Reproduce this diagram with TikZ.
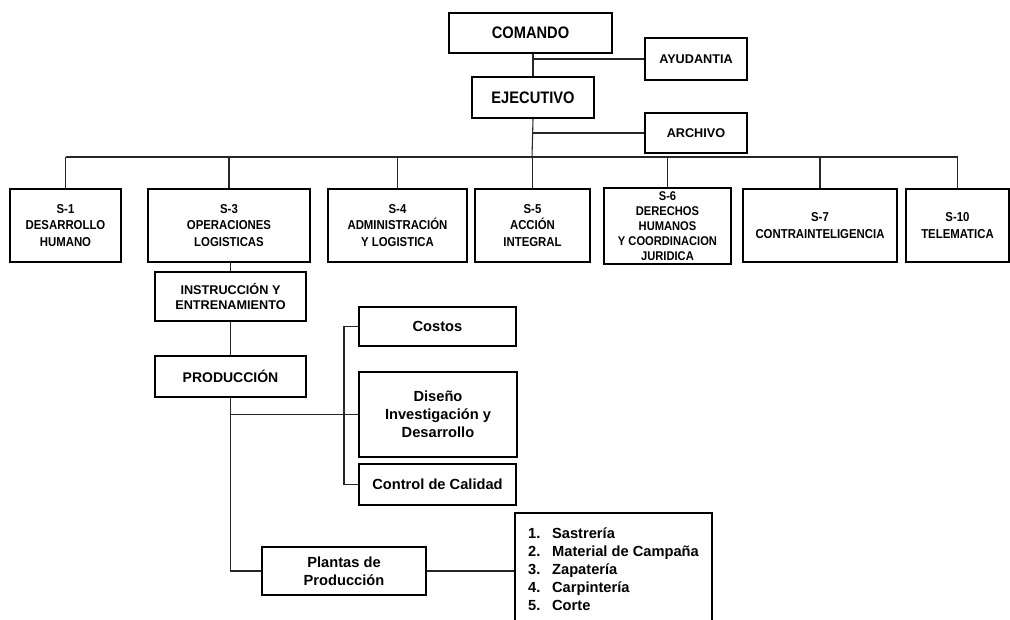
\documentclass[tikz,border=0pt]{standalone}
\usepackage{fontspec}
\setmainfont{Liberation Sans}
\newfontfamily\narrowsf[FakeStretch=0.88]{Liberation Sans}
\usetikzlibrary{positioning}

\begin{document}
\begin{tikzpicture}[
    x = 0.75pt, y = -0.75pt,
    box/.style = {draw, line width = 1.5pt, align = center, inner sep = 1pt},
    size/.style 2 args = {minimum width = #1*0.75pt, minimum height = #2*0.75pt},
    head/.style = {box, font = \narrowsf\bfseries\fontsize{12.5}{15}\selectfont},
    aide/.style = {box, font = \bfseries\fontsize{9.5}{11}\selectfont},
    staff/.style = {box, size = {#1}{73}, font = \narrowsf\bfseries\fontsize{9.7}{12.4}\selectfont},
    unit/.style = {box, font = \bfseries\fontsize{11}{13.5}\selectfont},
    link/.style = {line width = 0.8pt, black!85}
  ]
  \useasboundingbox (0,0) rectangle (1010,620);

  % mando
  \node[head, size = {163}{40}] (comando) at (530.5,33) {COMANDO};
  \node[aide, size = {102}{42}] (ayudantia) at (696,59) {AYUDANTIA};
  \node[head, size = {122}{41}] (ejecutivo) at (533,97.5) {EJECUTIVO};
  \node[aide, size = {102}{40}] (archivo) at (696,133) {ARCHIVO};

  % estado mayor
  \node[staff = 111] (s1) at (65.5,225.5) {S-1\\DESARROLLO\\HUMANO};
  \node[staff = 162] (s3) at (229,225.5) {S-3\\OPERACIONES\\LOGISTICAS};
  \node[staff = 139] (s4) at (397.5,225.5) {S-4\\ADMINISTRACIÓN\\Y LOGISTICA};
  \node[staff = 115] (s5) at (532.5,225.5) {S-5\\ACCIÓN\\INTEGRAL};
  \node[staff = 127, size = {127}{76}, font = \narrowsf\bfseries\fontsize{9.5}{11.2}\selectfont]
    (s6) at (667.5,226) {S-6\\DERECHOS\\HUMANOS\\Y COORDINACION\\JURIDICA};
  \node[staff = 154] (s7) at (820,225.5) {S-7\\CONTRAINTELIGENCIA};
  \node[staff = 103] (s10) at (957.5,225.5) {S-10\\TELEMATICA};

  % produccion
  \node[aide, size = {151}{49}, font = \bfseries\fontsize{9.5}{11.8}\selectfont]
    (instruccion) at (230.5,296.5) {INSTRUCCIÓN Y\\ENTRENAMIENTO};
  \node[aide, size = {151}{41}, font = \bfseries\fontsize{10.5}{13}\selectfont]
    (produccion) at (230.5,376.5) {PRODUCCIÓN};
  \node[unit, size = {157}{39}] (costos) at (437.5,326.5) {Costos};
  \node[unit, size = {158}{85}] (diseno) at (438,414.5) {Diseño\\Investigación y\\Desarrollo};
  \node[unit, size = {157}{41}] (control) at (437.5,484.5) {Control de Calidad};
  \node[unit, size = {164}{48}] (plantas) at (344,571) {Plantas de\\Producción};
  \node[unit, size = {197}{112}, align = left] (lista) at (613.5,569)
    {\makebox[18pt][l]{1.}Sastrería\\
     \makebox[18pt][l]{2.}Material de Campaña\\
     \makebox[18pt][l]{3.}Zapatería\\
     \makebox[18pt][l]{4.}Carpintería\\
     \makebox[18pt][l]{5.}Corte};

  \coordinate (bus) at (532,157);

  \begin{scope}[link]
    \draw (ejecutivo.north |- comando.south) -- (ejecutivo.north);
    \draw (ejecutivo.north |- ayudantia.west) -- (ayudantia.west);
    \draw (ejecutivo.south) -- (bus);
    \draw (ejecutivo.south |- archivo.west) -- (archivo.west);
    \draw (bus -| s1.north) -- (bus -| s10.north);
    \foreach \n in {s1, s3, s4, s5, s6, s7, s10}
      \draw (bus -| \n.north) -- (\n.north);
    \draw (s3.south -| instruccion.north) -- (instruccion.north);
    \draw (instruccion.south) -- (produccion.north);
    \draw (produccion.south) |- (plantas.west);
    \draw (produccion.south |- diseno.west) -- (diseno.west);
    \draw (costos.west) -- ++(-14,0) |- (control.west);
    \draw (plantas.east) -- (plantas.east -| lista.west);
  \end{scope}
\end{tikzpicture}
\end{document}
